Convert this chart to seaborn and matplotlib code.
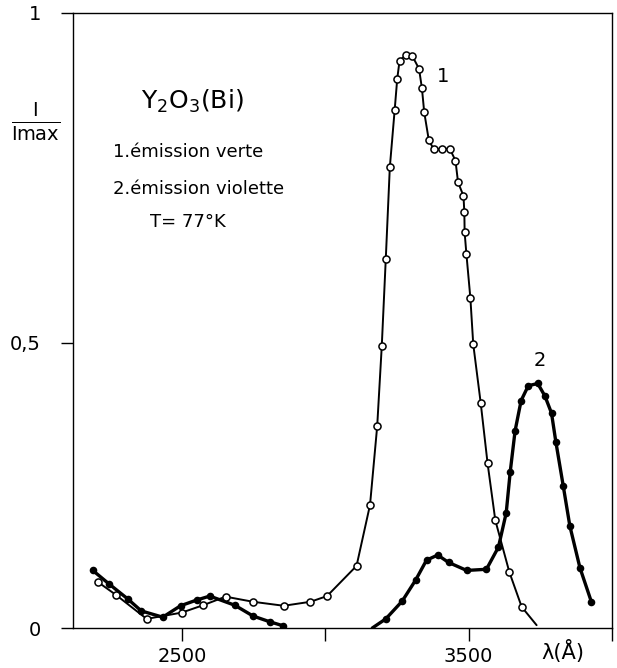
import matplotlib
matplotlib.use("Agg")
import matplotlib.pyplot as plt
import seaborn as sns
import pandas as pd
import numpy as np

# 1. émission verte (cercles ouverts) -- le dernier point est la fin du trait
wl_verte = [2206, 2270, 2377, 2499, 2574, 2652, 2748, 2855, 2948, 3006, 3109,
            3156, 3181, 3197, 3211, 3225, 3242, 3251, 3259, 3280, 3303, 3327,
            3337, 3345, 3361, 3378, 3406, 3434, 3454, 3463, 3482, 3485, 3486,
            3492, 3506, 3516, 3542, 3566, 3593, 3642, 3685, 3737]
i_verte = [0.081, 0.058, 0.016, 0.027, 0.040, 0.055, 0.046, 0.039, 0.046, 0.056,
           0.109, 0.216, 0.354, 0.495, 0.648, 0.808, 0.909, 0.964, 0.995, 1.005,
           1.004, 0.981, 0.947, 0.905, 0.856, 0.840, 0.840, 0.841, 0.820, 0.782,
           0.758, 0.729, 0.694, 0.657, 0.579, 0.498, 0.395, 0.289, 0.189, 0.098,
           0.037, 0.005]

# 2. émission violette (points pleins), deux morceaux
wl_violette_a = [2189, 2244, 2311, 2358, 2433, 2495, 2551, 2597, 2684, 2748,
                 2806, 2852]
i_violette_a = [0.101, 0.078, 0.051, 0.030, 0.019, 0.039, 0.049, 0.056, 0.040,
                0.021, 0.011, 0.004]
# le premier point est le debut du trait (sans marqueur)
wl_violette_b = [3164, 3211, 3268, 3315, 3353, 3392, 3430, 3493, 3562, 3604,
                 3631, 3645, 3662, 3683, 3708, 3741, 3766, 3789, 3804, 3830,
                 3853, 3888, 3928]
i_violette_b = [0.0, 0.016, 0.047, 0.084, 0.119, 0.128, 0.115, 0.101, 0.103,
                0.142, 0.202, 0.274, 0.346, 0.399, 0.425, 0.429, 0.407, 0.377,
                0.327, 0.249, 0.179, 0.106, 0.046]

y_ticks = [0, 0.5]
y_labels = ["0", "0,5", "1"]
x_ticks = [2500, 3000, 3500, 4000]
x_labels = ["2500", "", "3500", ""]

sns.set_style("ticks")
plt.rcParams['font.family'] = ['DejaVu Sans']
plt.rcParams['text.color'] = 'black'
plt.rcParams['xtick.color'] = 'black'
plt.rcParams['ytick.color'] = 'black'

W, H = 617, 668
fig = plt.figure(figsize=(W / 100, H / 100), dpi=100)
ax = fig.add_axes([73 / W, 1 - 628 / H, (612 - 73) / W, (628 - 13) / H])

y_top = 615 / 570

verte = pd.DataFrame({"wl": wl_verte, "i": i_verte})
va = pd.DataFrame({"wl": wl_violette_a, "i": i_violette_a})
vb = pd.DataFrame({"wl": wl_violette_b, "i": i_violette_b})

# courbe 1
sns.lineplot(data=verte, x="wl", y="i", ax=ax, color="black", lw=1.4,
             sort=False, estimator=None)
sns.scatterplot(data=verte.iloc[:-1], x="wl", y="i", ax=ax, s=26,
                facecolor="white", edgecolor="black", linewidth=1.1, zorder=3)

# courbe 2
for df, pts in [(va, va), (vb, vb.iloc[1:])]:
    sns.lineplot(data=df, x="wl", y="i", ax=ax, color="black", lw=2.4,
                 sort=False, estimator=None)
    sns.scatterplot(data=pts, x="wl", y="i", ax=ax, s=30, color="black",
                    edgecolor="black", linewidth=0, zorder=3)

ax.set_xlim(2120, 4000)
ax.set_ylim(0, y_top)
ax.set_yticks(y_ticks + [y_top])
ax.set_yticklabels(y_labels, fontsize=14)
ax.set_xticks(x_ticks)
ax.set_xticklabels(x_labels, fontsize=14)
ax.tick_params(axis="both", direction="out", length=9, width=1, pad=5)
ax.tick_params(axis="y", pad=14)
ax.set_xlabel("")
ax.set_ylabel("")
for s in ax.spines.values():
    s.set_linewidth(1.0)
    s.set_color("black")

ax.text(3410, 0.967, "1", fontsize=14, ha="center", va="center")
ax.text(3748, 0.47, "2", fontsize=14, ha="center", va="center")

fig.text(192 / W, 1 - 101 / H, r"Y$_2$O$_3$(Bi)", fontsize=18,
         ha="center", va="center")
fig.text(113 / W, 1 - 152 / H, "1.émission verte", fontsize=13,
         ha="left", va="center")
fig.text(113 / W, 1 - 189 / H, "2.émission violette", fontsize=13,
         ha="left", va="center")
fig.text(150 / W, 1 - 222 / H, "T= 77°K", fontsize=13,
         ha="left", va="center")
fig.text(36 / W, 1 - 122 / H, r"$\frac{\mathrm{I}}{\mathrm{Imax}}$",
         fontsize=20, ha="center", va="center")
fig.text(563 / W, 1 - 652 / H, "λ(Å)", fontsize=15, ha="center", va="center")

fig.savefig("out.png", dpi=100, facecolor="white")
